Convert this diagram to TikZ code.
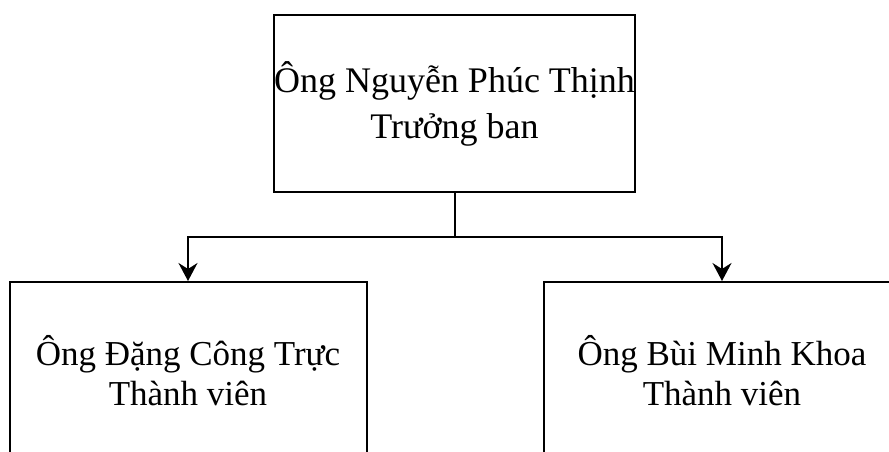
\documentclass[tikz,border=0pt]{standalone}
\usepackage{fontspec}
\setmainfont{Liberation Serif}
\usetikzlibrary{arrows.meta}
\begin{document}
\begin{tikzpicture}[x=1pt,y=1pt,
  box/.style={draw=black,line width=2pt,minimum width=357pt,minimum height=177pt,inner sep=0pt,align=center,font=\fontsize{35}{40}\selectfont},
  topbox/.style={box,font=\fontsize{36}{46}\selectfont},
  line/.style={line width=2pt},
  conn/.style={line,-{Stealth[length=18pt,width=19pt,inset=6pt]}}]
\useasboundingbox (0,0) rectangle (889,-452);
\clip (0,0) rectangle (889,-452);
\fill[white] (0,0) rectangle (889,-452);
\node[topbox] (top) at (454.5,-103.5) {Ông Nguyễn Phúc Thịnh\\Trưởng ban};
\node[box] (left) at (188,-370.5) {Ông Đặng Công Trực\\Thành viên};
\node[box] (right) at (722,-370.5) {Ông Bùi Minh Khoa\\Thành viên};
\coordinate (j) at (454.5,-237);
\draw[line] (top.south) -- (j);
\draw[conn] (j) -| (left.north);
\draw[conn] (j) -| (right.north);
\end{tikzpicture}
\end{document}
